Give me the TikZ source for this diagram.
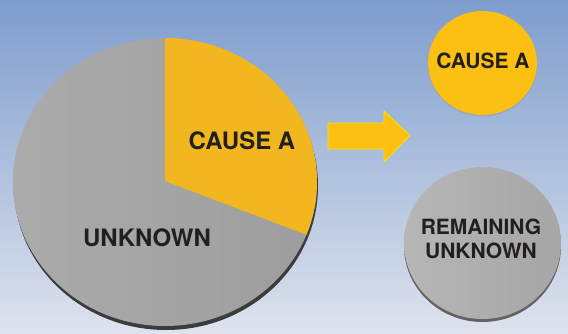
\documentclass[tikz,border=0pt]{standalone}
\usepackage{fontspec}
\setmainfont{TeX Gyre Heros}
\usetikzlibrary{shapes.geometric,shadows}
\definecolor{bgtop}{HTML}{7E9DCD}
\definecolor{bgbot}{HTML}{DEE3EE}
\definecolor{piegold}{HTML}{F2B71E}
\definecolor{circgold}{HTML}{FCC012}
\definecolor{greyL}{HTML}{ABABAB}
\definecolor{greyR}{HTML}{9D9D9D}
\definecolor{cgreyL}{HTML}{B6B6B6}
\definecolor{cgreyR}{HTML}{A6A6A6}
\definecolor{shadowgrey}{HTML}{3C3C3C}
\definecolor{txt}{HTML}{231F20}
\tikzset{
  bigtxt/.style={text=txt, font=\fontsize{24}{28}\selectfont\bfseries},
  smalltxt/.style={text=txt, font=\fontsize{21}{24}\selectfont\bfseries, align=center},
}
\begin{document}
\begin{tikzpicture}[x=1pt,y=1pt]
\useasboundingbox (0,0) rectangle (568,333);
\shade[top color=bgtop, bottom color=bgbot] (0,0) rectangle (568,333);
% pie
\fill[shadowgrey] (166,147) ellipse[x radius=152, y radius=144];
\shade[left color=greyL, right color=greyR] (165,151) ellipse[x radius=152, y radius=144];
\fill[piegold] (165,152) -- (165,295) arc[start angle=90, end angle=-21.5, x radius=152, y radius=144] -- cycle;
\node[bigtxt] (pa) at (242,192) {CAUSE A};
\node[bigtxt] (pu) at (147,95) {UNKNOWN};
% arrow
\fill[circgold, draw=yellow!85!orange, line width=0.8pt]
  (328,184) -- (384,184) -- (384,171) -- (410,197.5) -- (384,222) -- (384,210) -- (328,210) -- cycle;
% circles
\node[ellipse, fill=circgold, minimum width=109, minimum height=104, inner sep=0,
      drop shadow={shadow xshift=0pt, shadow yshift=-1.5pt, opacity=0.25}] (ca) at (482.5,270) {};
\node[smalltxt] (cat) at (483,272) {CAUSE A};
\fill[shadowgrey!80] (482.5,87) ellipse[x radius=78.5, y radius=76];
\shade[left color=cgreyL, right color=cgreyR] (482.5,90) ellipse[x radius=78.5, y radius=76];
\node[ellipse, minimum width=157, minimum height=152, inner sep=0] (ru) at (482.5,90) {};
\node[smalltxt] (rut) at (481,94) {REMAINING\\UNKNOWN};
\end{tikzpicture}
\end{document}
